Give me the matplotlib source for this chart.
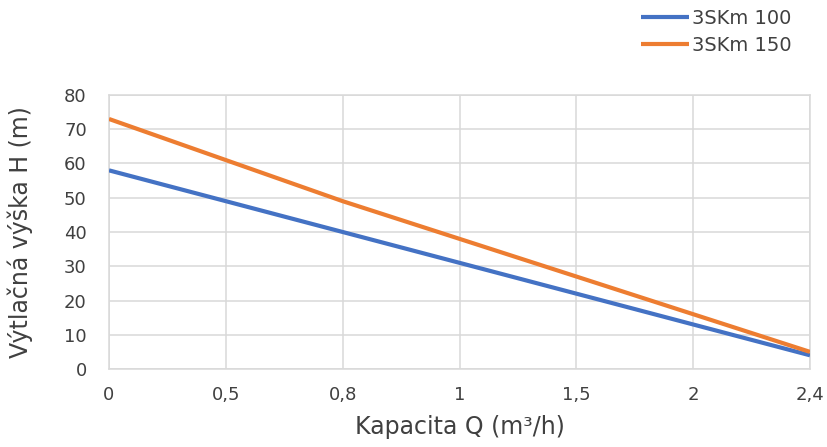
import matplotlib
matplotlib.use("Agg")
import matplotlib.pyplot as plt

categories = ["0", "0,5", "0,8", "1", "1,5", "2", "2,4"]
series_names = ["3SKm 100", "3SKm 150"]
h_100 = [58, 49, 40, 31, 22, 13, 4]
h_150 = [73, 61, 49, 38, 27, 16, 5]
y_ticks = [0, 10, 20, 30, 40, 50, 60, 70, 80]

plt.rcParams['font.family'] = ['DejaVu Sans']
text_col = "#404040"
grid_col = "#d9d9d9"

fig = plt.figure(figsize=(8.27, 4.47), dpi=100)
ax = fig.add_axes([109/827, (447-369)/447, (810-109)/827, (369-95)/447])

x = list(range(len(categories)))
l1, = ax.plot(x, h_100, color="#4472C4", lw=3.0, solid_capstyle="butt", zorder=3)
l2, = ax.plot(x, h_150, color="#ED7D31", lw=3.0, solid_capstyle="butt", zorder=3)

ax.set_xlim(0, len(categories) - 1)
ax.set_ylim(0, 80)
ax.set_xticks(x)
ax.set_xticklabels(categories)
ax.set_yticks(y_ticks)
ax.grid(True, color=grid_col, lw=1.1, zorder=0)
for s in ax.spines.values():
    s.set_color(grid_col)
    s.set_linewidth(1.1)
ax.tick_params(length=0, labelsize=13, colors="#404040")
ax.tick_params(axis='y', pad=16)
ax.tick_params(axis='x', pad=12)

ax.set_xlabel("Kapacita Q (m³/h)", fontsize=17, color=text_col, labelpad=8)
ax.set_ylabel("Výtlačná výška H (m)", fontsize=17, color=text_col)
ax.yaxis.set_label_coords((33 - 109) / 701, 0.5)

fig.legend([l1, l2], series_names, loc="upper left",
           bbox_to_anchor=(641/827, 1 - 9/447),
           frameon=False, fontsize=14, handlelength=2.45, handletextpad=0.15,
           labelspacing=0.4, borderpad=0, borderaxespad=0, labelcolor=text_col)

fig.savefig("out.png", dpi=100)
